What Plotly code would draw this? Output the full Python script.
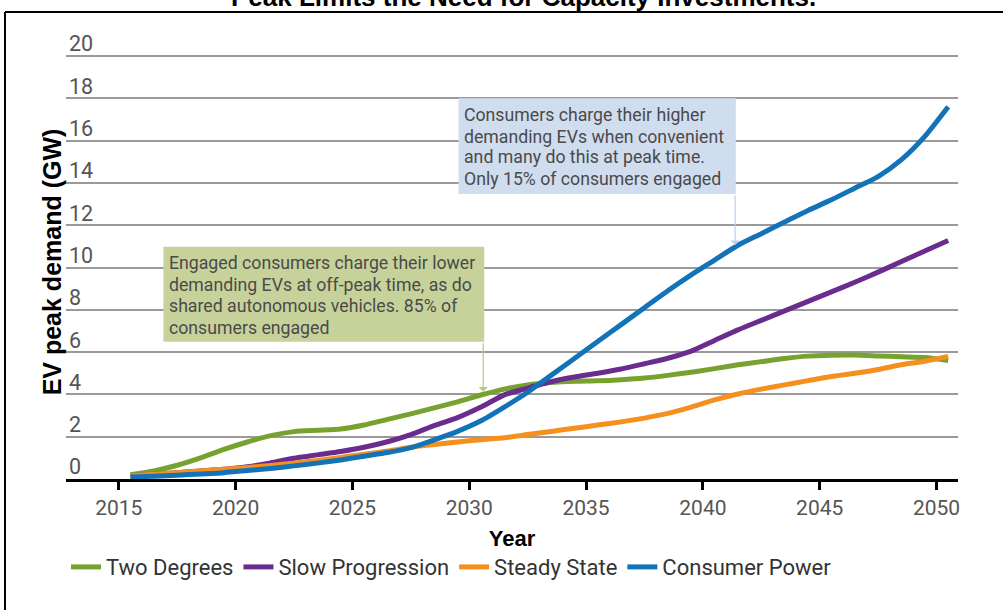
import plotly.graph_objects as go

# Scenario peak EV demand (GW), sampled mid-year
years = [2015.5, 2016.5, 2017.5, 2018.5, 2019.5, 2020.5, 2021.5, 2022.5, 2023.5,
         2024.5, 2025.5, 2026.5, 2027.5, 2028.5, 2029.5, 2030.5, 2031.5, 2032.5,
         2033.5, 2034.5, 2035.5, 2036.5, 2037.5, 2038.5, 2039.5, 2040.5, 2041.5,
         2042.5, 2043.5, 2044.5, 2045.5, 2046.5, 2047.5, 2048.5, 2049.5, 2050.5]

two_degrees = [0.2, 0.38, 0.65, 1.0, 1.4, 1.75, 2.05, 2.24, 2.3, 2.36, 2.55, 2.82,
               3.08, 3.36, 3.65, 3.97, 4.25, 4.45, 4.56, 4.62, 4.64, 4.69, 4.77,
               4.9, 5.05, 5.22, 5.4, 5.55, 5.7, 5.81, 5.85, 5.86, 5.82, 5.78,
               5.74, 5.6]

slow_progression = [0.15, 0.22, 0.3, 0.38, 0.46, 0.58, 0.76, 0.98, 1.14, 1.3, 1.5,
                    1.76, 2.1, 2.52, 2.9, 3.4, 3.98, 4.3, 4.6, 4.82, 5.0, 5.2,
                    5.45, 5.71, 6.05, 6.55, 7.05, 7.5, 7.95, 8.4, 8.85, 9.3,
                    9.78, 10.28, 10.78, 11.28]

steady_state = [0.15, 0.22, 0.3, 0.38, 0.46, 0.54, 0.64, 0.75, 0.88, 1.02, 1.17,
                1.32, 1.5, 1.63, 1.75, 1.86, 1.95, 2.1, 2.25, 2.4, 2.55, 2.7,
                2.88, 3.1, 3.4, 3.74, 4.02, 4.25, 4.45, 4.65, 4.85, 5.0, 5.18,
                5.4, 5.57, 5.8]

consumer_power = [0.1, 0.13, 0.18, 0.24, 0.3, 0.4, 0.5, 0.62, 0.75, 0.9, 1.08,
                  1.25, 1.48, 1.85, 2.25, 2.75, 3.4, 4.1, 4.9, 5.7, 6.5, 7.3,
                  8.1, 8.9, 9.65, 10.35, 11.05, 11.6, 12.15, 12.7, 13.2, 13.75,
                  14.3, 15.1, 16.2, 17.6]

series_names = ["Two Degrees", "Slow Progression", "Steady State", "Consumer Power"]
series_values = [two_degrees, slow_progression, steady_state, consumer_power]
series_colors = ["#78a22f", "#6a2c8e", "#f5901f", "#1273b8"]

x_ticks = [2015, 2020, 2025, 2030, 2035, 2040, 2045, 2050]
y_ticks = [0, 2, 4, 6, 8, 10, 12, 14, 16, 18, 20]

title_text = "Peak Limits the Need for Capacity Investments."
green_note = ["Engaged consumers charge their lower",
              "demanding EVs at off-peak time, as do",
              "shared autonomous vehicles. 85% of",
              "consumers engaged"]
blue_note = ["Consumers charge their higher",
             "demanding EVs when convenient",
             "and many do this at peak time.",
             "Only 15% of consumers engaged"]

LIGHT = "Roboto, Liberation Sans, Arial, sans-serif"
BOLD = "Liberation Sans, Arial, Helvetica, sans-serif"

fig = go.Figure()
for name, vals, col in zip(series_names, series_values, series_colors):
    fig.add_trace(go.Scatter(
        x=years, y=vals, name=name, mode="lines",
        line=dict(color=col, width=5, shape="spline", smoothing=0.6),
    ))

# callout boxes
fig.add_shape(type="rect", xref="x", yref="y", x0=2016.91, x1=2030.64, y0=6.49, y1=10.98,
              fillcolor="#c7d29b", line=dict(width=0), layer="above")
fig.add_shape(type="rect", xref="x", yref="y", x0=2029.54, x1=2041.41, y0=13.48, y1=18.0,
              fillcolor="#d0ddef", line=dict(width=0), layer="above")

note_font = dict(family=LIGHT, size=17.7, color="#4a4a4a")
annotations = []
for txt, yv in zip(green_note, [10.21, 9.19, 8.17, 7.14]):
    annotations.append(dict(x=2017.12, y=yv, xref="x", yref="y", text=txt,
                            showarrow=False, xanchor="left", yanchor="middle",
                            borderpad=0, font=note_font))
for txt, yv in zip(blue_note, [17.2, 16.17, 15.22, 14.2]):
    annotations.append(dict(x=2029.75, y=yv, xref="x", yref="y", text=txt,
                            showarrow=False, xanchor="left", yanchor="middle",
                            borderpad=0, font=note_font))

# pointer arrows from the boxes down to the curves
annotations.append(dict(x=2030.6, y=4.13, ax=2030.6, ay=6.49, xref="x", yref="y",
                        axref="x", ayref="y", text="", showarrow=True, arrowhead=1,
                        arrowsize=1.3, arrowwidth=1.2, arrowcolor="#b6c98c"))
annotations.append(dict(x=2041.38, y=11.06, ax=2041.38, ay=13.48, xref="x", yref="y",
                        axref="x", ayref="y", text="", showarrow=True, arrowhead=1,
                        arrowsize=1.3, arrowwidth=1.2, arrowcolor="#bcd0ec"))

# page heading, partly above the top edge of the page
annotations.append(dict(x=0.513, y=1.071, xref="paper", yref="paper",
                        text="<b>" + title_text + "</b>", showarrow=False,
                        xanchor="center", yanchor="bottom",
                        font=dict(family=BOLD, size=26, color="#000000")))

fig.update_layout(annotations=annotations)

# outer frame (top and left edges)
fig.add_shape(type="line", xref="paper", yref="paper", x0=-0.0684, x1=1.2,
              y0=1.076, y1=1.076, line=dict(color="#000000", width=2))
fig.add_shape(type="line", xref="paper", yref="paper", x0=-0.0684, x1=-0.0684,
              y0=-0.5, y1=1.076, line=dict(color="#000000", width=2))

fig.update_layout(
    width=1003, height=610,
    margin=dict(l=66, r=45, t=45, b=131),
    paper_bgcolor="#ffffff", plot_bgcolor="#ffffff",
    showlegend=True,
    legend=dict(orientation="h", x=0.0, xanchor="left", y=-0.203, yanchor="middle",
                font=dict(family=LIGHT, size=22, color="#333333"),
                itemwidth=30, bgcolor="rgba(0,0,0,0)"),
    xaxis=dict(range=[2012.74, 2050.92], tickvals=x_ticks, ticks="outside",
               ticklen=8, tickwidth=2.5, tickcolor="#000000",
               showline=True, linecolor="#000000", linewidth=3,
               showgrid=False, zeroline=False,
               tickfont=dict(family=LIGHT, size=21, color="#555555"),
               title=dict(text="<b>Year</b>", standoff=12,
                          font=dict(family=BOLD, size=22, color="#000000"))),
    yaxis=dict(range=[0, 20.52], tickvals=y_ticks, ticks="",
               showgrid=True, gridcolor="#9a9a9a", gridwidth=2,
               zeroline=False, showline=False,
               ticklabelposition="inside top", ticklabeloverflow="allow",
               ticklabelshift=3,
               tickfont=dict(family=LIGHT, size=21.5, color="#555555"),
               title=dict(text="<b>EV peak demand (GW)</b>", standoff=0,
                          font=dict(family=BOLD, size=25, color="#000000"))),
)

fig.write_html("out.html")
